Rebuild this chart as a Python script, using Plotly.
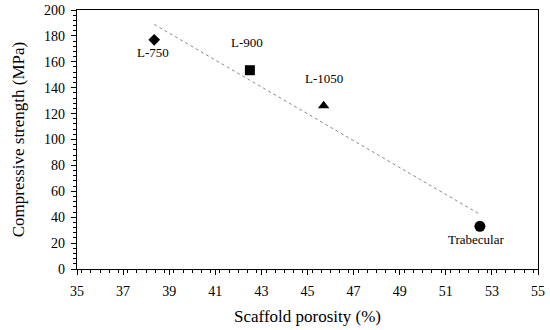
import numpy as np
import plotly.graph_objects as go

# Data
labels = ["L-750", "L-900", "L-1050", "Trabecular"]
porosity = [38.35, 42.5, 45.7, 52.48]
strength = [177, 153.5, 126, 33]

# Styles
symbols = ["diamond", "square", "triangle-up", "circle"]
sizes = [9, 10, 10, 11]
label_shift = [(-1, -13), (-3, 28), (0, 27), (-3, -13)]

FONT = "Liberation Serif"

fig = go.Figure()

# Linear trend line fit through the data
slope, intercept = np.polyfit(porosity, strength, 1)
xt = np.array([min(porosity), max(porosity)])
fig.add_trace(go.Scatter(
    x=xt, y=slope * xt + intercept, mode="lines",
    line=dict(color="#8a8a8a", width=1, dash="dot"),
    hoverinfo="skip", showlegend=False))

for lab, x, y, sym, sz, (dx, dy) in zip(labels, porosity, strength, symbols, sizes, label_shift):
    fig.add_trace(go.Scatter(
        x=[x], y=[y], mode="markers", name=lab,
        marker=dict(symbol=sym, size=sz, color="black"),
        showlegend=False))
    fig.add_annotation(x=x, y=y, text=lab, showarrow=False,
                       xshift=dx, yshift=dy,
                       font=dict(family=FONT, size=13, color="black"))

axis_common = dict(
    showline=True, linecolor="black", linewidth=1.3, mirror=True,
    showgrid=False, zeroline=False, automargin=False,
    ticks="outside", ticklen=5, tickcolor="black", tickwidth=1,
    tickfont=dict(family=FONT, size=14, color="black"),
)

fig.update_xaxes(
    range=[35, 55], dtick=2, tick0=35, ticklabelstandoff=4,
    minor=dict(dtick=0.4, ticks="outside", ticklen=3, tickcolor="black", tickwidth=1),
    title=dict(text="Scaffold porosity (%)", font=dict(family=FONT, size=17, color="black"), standoff=12),
    **axis_common)
fig.update_yaxes(
    range=[0, 200], dtick=20, tick0=0, ticklabelstandoff=3,
    minor=dict(dtick=4, ticks="outside", ticklen=3, tickcolor="black", tickwidth=1),
    title=dict(text="Compressive strength (MPa)", font=dict(family=FONT, size=17, color="black"), standoff=15),
    **axis_common)

fig.update_layout(
    width=550, height=330,
    margin=dict(l=77, r=12, t=10, b=61),
    plot_bgcolor="white", paper_bgcolor="white",
    showlegend=False,
)

fig.write_html("out.html", config={"displayModeBar": False},
               post_script="document.body.style.margin='0px';")
